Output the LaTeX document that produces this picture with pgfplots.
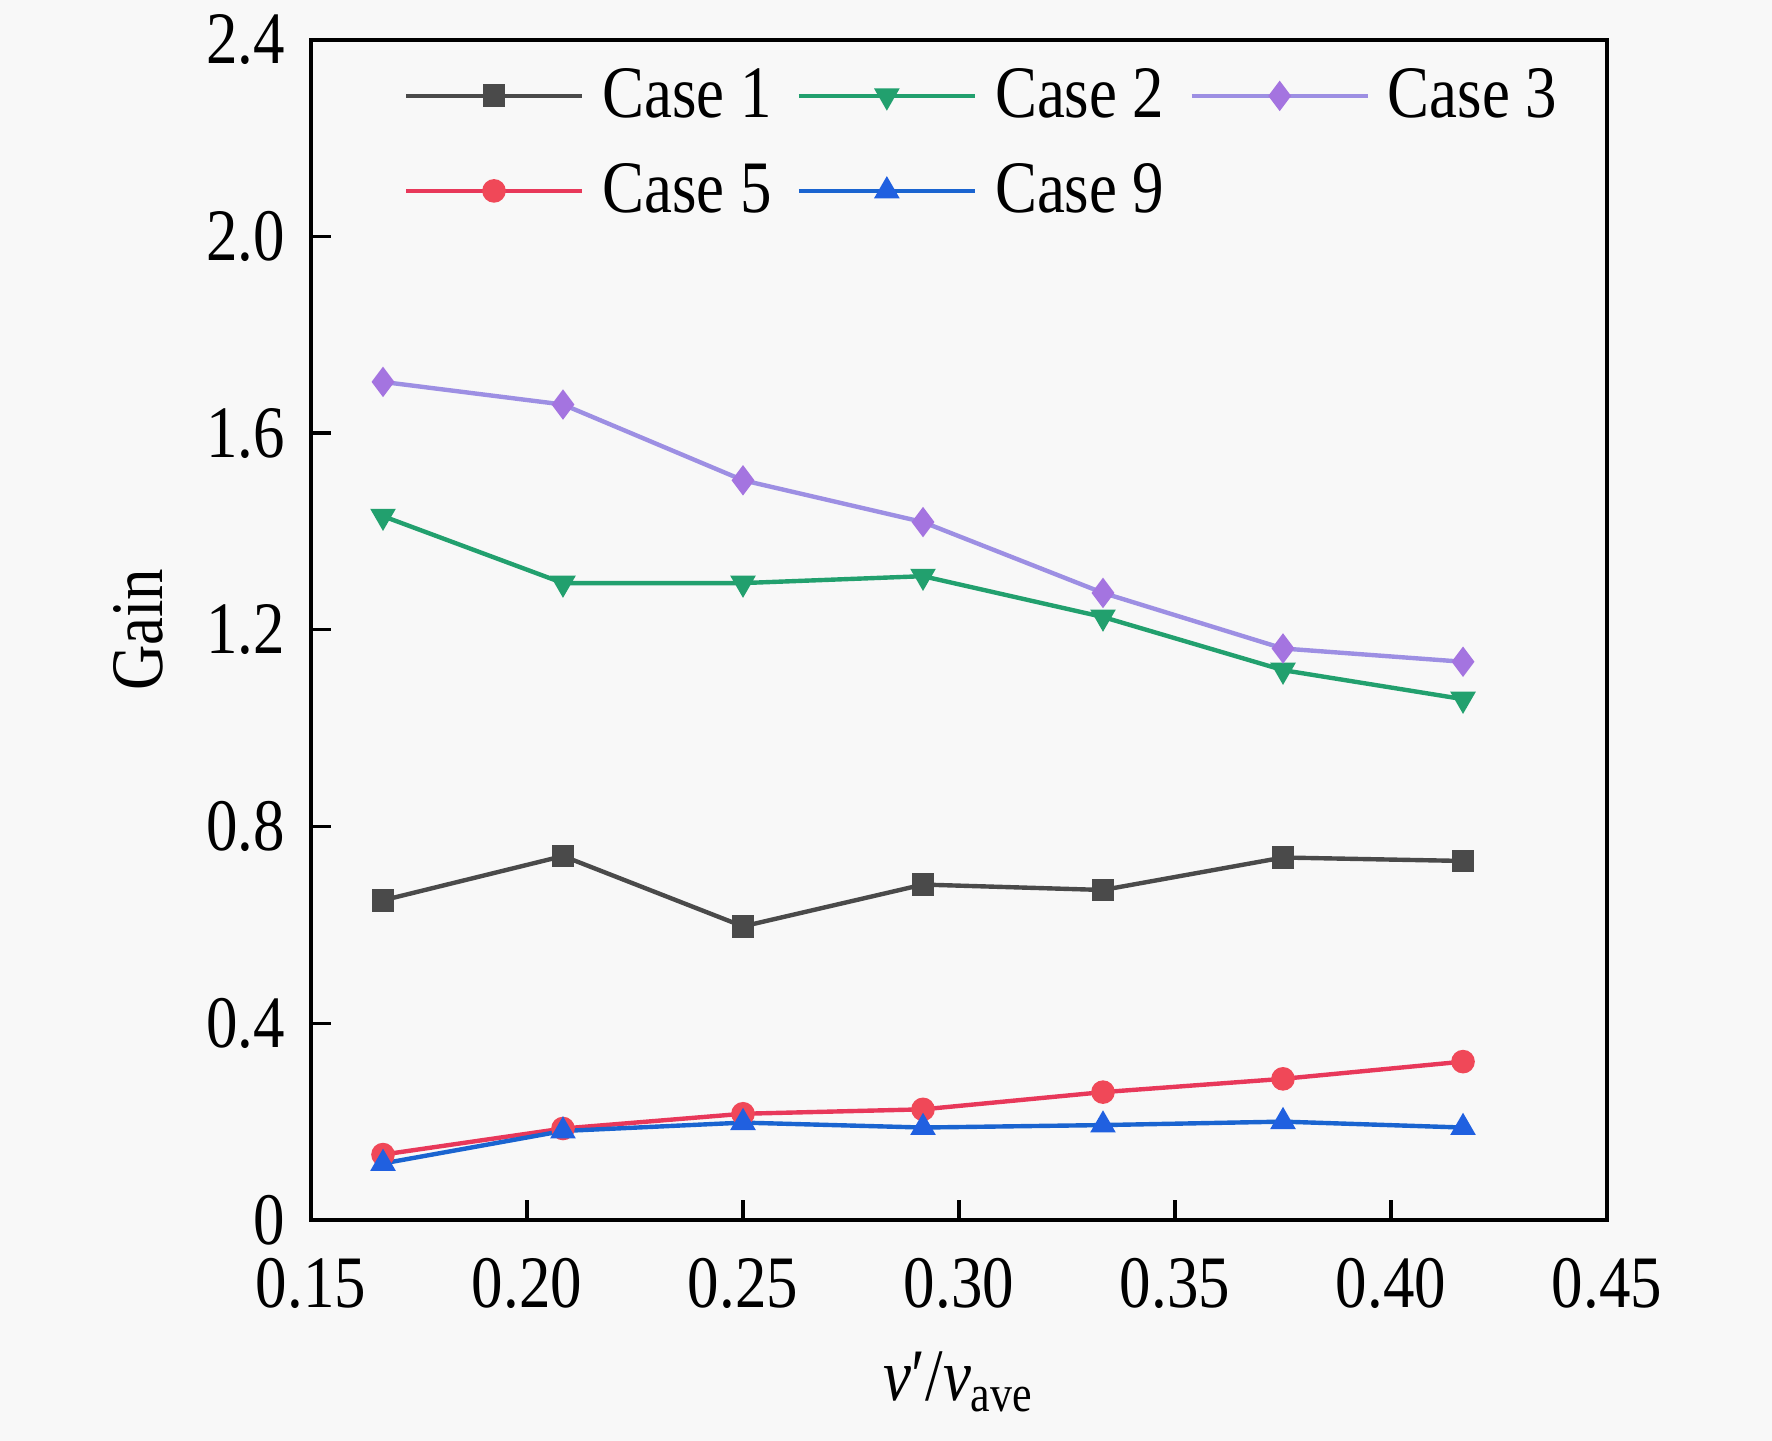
\documentclass[border=0pt]{standalone}
\usepackage{pgfplots}
\pgfplotsset{compat=1.18}
\usepackage{fontspec}
\setmainfont[FakeStretch=0.85]{Liberation Serif}
\definecolor{bg}{HTML}{F8F8F8}
\definecolor{cone}{HTML}{4A4A4A}
\definecolor{ctwo}{HTML}{22A06E}
\definecolor{cthree}{HTML}{9D8FE3}
\definecolor{cthreem}{HTML}{A474E0}
\definecolor{cfive}{HTML}{E8385A}
\definecolor{cfivem}{HTML}{F04858}
\definecolor{cnine}{HTML}{1A64D0}
\definecolor{cninem}{HTML}{2060E0}
\begin{document}
\begin{tikzpicture}
\fill[bg] (-77.75pt,-55.25pt) rectangle (365.25pt,305pt);
\path[use as bounding box] (-77.75pt,-55.25pt) rectangle (365.25pt,305pt);
\begin{axis}[
  at={(0,0)}, anchor=south west,
  scale only axis, width=324pt, height=295.1pt,
  xmin=0.15, xmax=0.45, ymin=0, ymax=2.4,
  xtick={0.15,0.20,...,0.45},
  ytick={0,0.4,0.8,1.2,1.6,2.0,2.4},
  yticklabels={0,0.4,0.8,1.2,1.6,2.0,2.4},
  x tick label style={yshift=-6pt, /pgf/number format/.cd, fixed, fixed zerofill, precision=2},
  yticklabel style={xshift=-3pt},
  /pgf/number format/assume math mode=true,
  tick align=inside, major tick length=5pt,
  xtick pos=bottom, ytick pos=left,
  axis line style={line width=1pt},
  every tick/.style={black, line width=0.8pt},
  tick label style={font=\fontsize{18.5}{22}\selectfont},
  label style={font=\fontsize{18.5}{22}\selectfont},
  xlabel={\textit{v}′/\textit{v}\textsubscript{ave}},
  ylabel={Gain},
  xlabel style={yshift=-4pt},
  ylabel style={yshift=4pt},
  legend columns=3,
  legend style={draw=none, fill=none, at={(axis description cs:0,1)}, anchor=north west,
    xshift=20pt, yshift=-5pt, font=\fontsize{18.5}{22}\selectfont,
    nodes={inner sep=0pt}, row sep=10pt,
    /tikz/every odd column/.append style={column sep=4.5pt},
    /tikz/every even column/.append style={column sep=6.25pt}},
  legend cell align=left,
  legend image code/.code={\draw[mark repeat=2,mark phase=2,#1] plot coordinates {(0pt,0pt) (22pt,0pt) (44pt,0pt)};},
]
\addplot[cone, line width=1.1pt, mark=square*, mark size=2.6pt, mark options={fill=cone, draw=cone, line width=0.5pt}] coordinates {
(0.16667,0.650) (0.20833,0.740) (0.25,0.597) (0.29167,0.682) (0.33333,0.671) (0.375,0.737) (0.41667,0.730)};
\addlegendentry{Case 1}
\addplot[ctwo, line width=1.1pt, mark=triangle*, mark size=3.2pt, mark options={rotate=180, fill=ctwo, draw=ctwo, line width=0.5pt}] coordinates {
(0.16667,1.431) (0.20833,1.295) (0.25,1.295) (0.29167,1.309) (0.33333,1.226) (0.375,1.118) (0.41667,1.059)};
\addlegendentry{Case 2}
\addplot[cthree, line width=1.1pt, mark=diamond*, mark size=3.4pt, mark options={fill=cthreem, draw=cthreem, line width=0.5pt}] coordinates {
(0.16667,1.704) (0.20833,1.658) (0.25,1.504) (0.29167,1.419) (0.33333,1.275) (0.375,1.162) (0.41667,1.135)};
\addlegendentry{Case 3}
\addplot[cfive, line width=1.1pt, mark=*, mark size=2.7pt, mark options={fill=cfivem, draw=cfivem, line width=0.5pt}] coordinates {
(0.16667,0.133) (0.20833,0.186) (0.25,0.216) (0.29167,0.225) (0.33333,0.260) (0.375,0.287) (0.41667,0.322)};
\addlegendentry{Case 5}
\addplot[cnine, line width=1.1pt, mark=triangle*, mark size=3.2pt, mark options={fill=cninem, draw=cninem, line width=0.5pt}] coordinates {
(0.16667,0.115) (0.20833,0.181) (0.25,0.198) (0.29167,0.188) (0.33333,0.193) (0.375,0.200) (0.41667,0.188)};
\addlegendentry{Case 9}
\end{axis}
\end{tikzpicture}
\end{document}
